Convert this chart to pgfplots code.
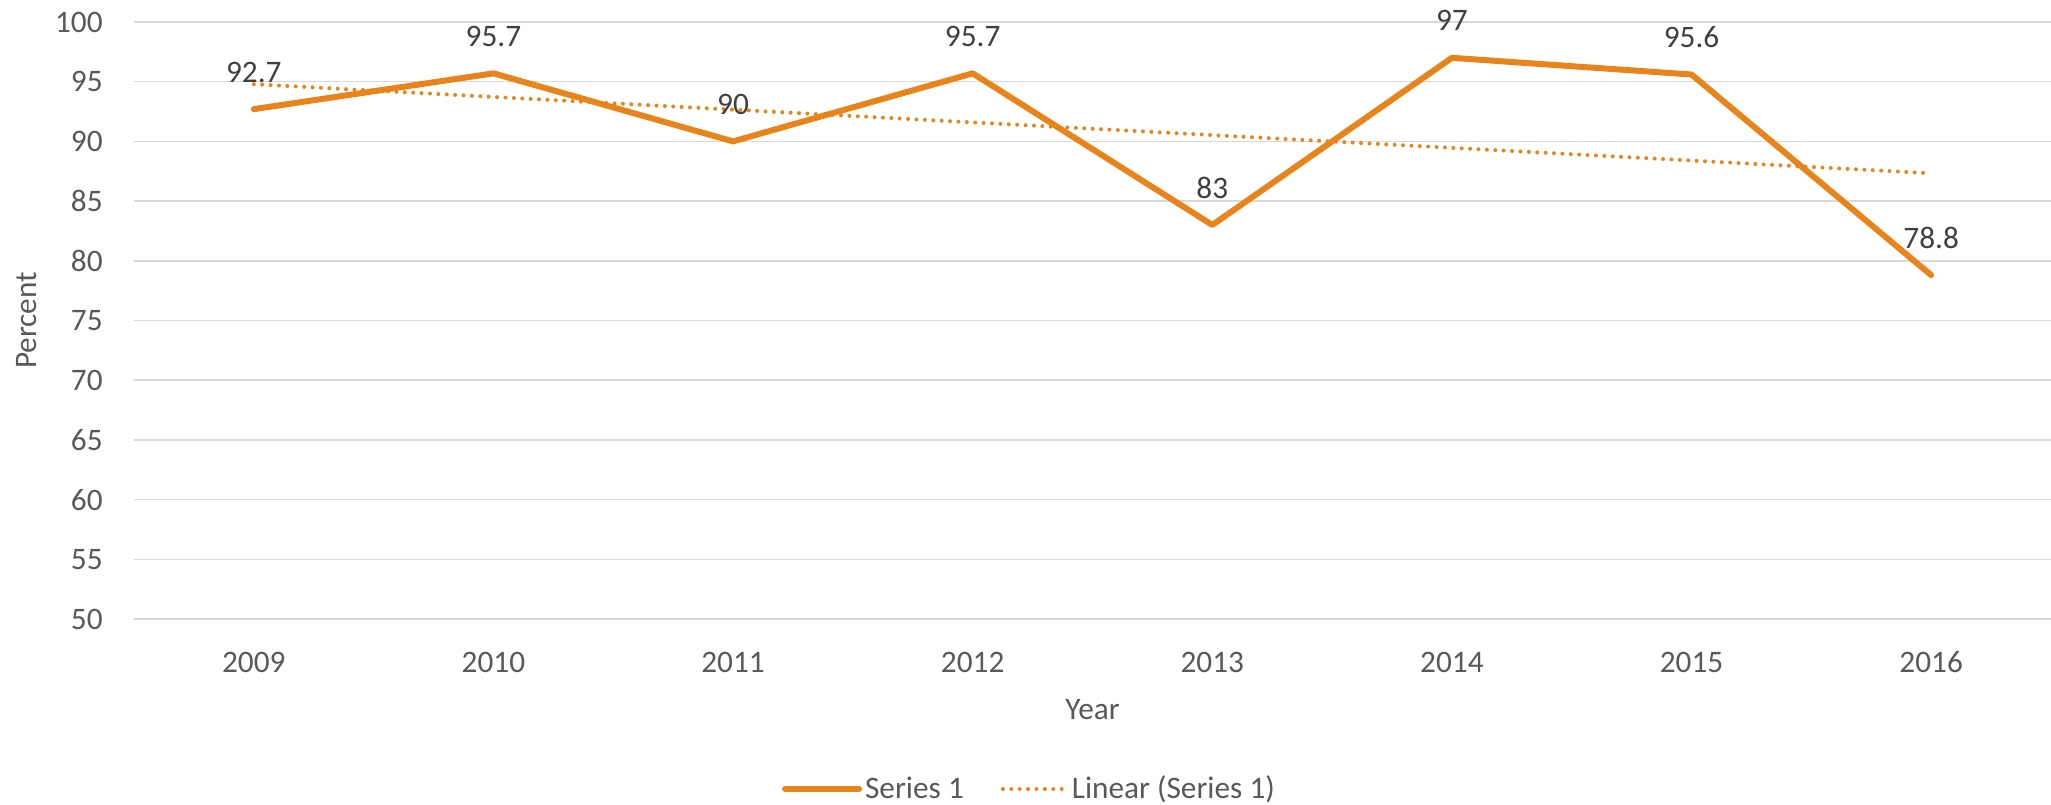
\documentclass[border=0pt]{standalone}
\usepackage{fontspec}
\setmainfont{Carlito}
\usepackage{pgfplots}
\pgfplotsset{compat=1.18}
\definecolor{lineorange}{HTML}{E8841A}
\definecolor{txtgray}{HTML}{595959}
\definecolor{lblgray}{HTML}{404040}
\definecolor{gridgray}{HTML}{D9D9D9}
\newcommand{\chartfont}{\fontsize{15.7}{18.8}\selectfont}
\begin{document}
\begin{tikzpicture}
\useasboundingbox (0,0) rectangle (1025.5bp,402.5bp);
\begin{axis}[
  at={(67bp,93bp)}, anchor=south west,
  scale only axis, width=958.5bp, height=298.5bp,
  xmin=-0.5, xmax=7.5, ymin=50, ymax=100,
  xtick={0,1,2,3,4,5,6,7},
  xticklabels={2009,2010,2011,2012,2013,2014,2015,2016},
  ytick={50,55,60,65,70,75,80,85,90,95,100},
  axis line style={draw=none},
  major tick length=0pt, tick style={draw=none},
  ymajorgrids, grid style={gridgray, line width=0.75bp},
  /pgf/number format/assume math mode=true,
  font=\chartfont,
  tick label style={txtgray, font=\chartfont, inner sep=0pt},
  yticklabel style={anchor=east, xshift=-15.5bp},
  xticklabel style={anchor=center, yshift=-21.5bp},
  xlabel={Year}, ylabel={Percent},
  xlabel style={at={(axis description cs:0.5,-0.1524)}, anchor=center, txtgray, font=\chartfont},
  ylabel style={at={(axis description cs:-0.0558,0.5)}, anchor=center, txtgray, font=\chartfont},
  clip=false,
  legend style={at={(axis description cs:0.4674,-0.2848)}, anchor=center,
    draw=none, fill=none, legend columns=-1, font=\chartfont, text=txtgray,
    nodes={inner sep=1.5bp},
    /tikz/every even column/.append style={column sep=17bp}},
]
\addplot[lineorange, line width=3bp, line join=round, line cap=round,
  nodes near coords, point meta=y,
  every node near coord/.append style={anchor=center, yshift=18.5bp, inner sep=0pt, text=lblgray, font=\chartfont},
  legend image code/.code={\draw[lineorange, line width=3bp, line cap=round] (0bp,0bp) -- (37bp,0bp);}]
  coordinates {(0,92.7) (1,95.7) (2,90) (3,95.7) (4,83) (5,97) (6,95.6) (7,78.8)};
\addlegendentry{Series 1}
\addplot[lineorange, line width=2bp, line cap=round, dash pattern=on 0bp off 4.2bp,
  legend image code/.code={\draw[lineorange, line width=2bp, line cap=round, dash pattern=on 0bp off 4.2bp] (0bp,0bp) -- (32bp,0bp);}]
  coordinates {(0,94.79) (7,87.33)};
\addlegendentry{Linear (Series 1)}
\end{axis}
\end{tikzpicture}
\end{document}
